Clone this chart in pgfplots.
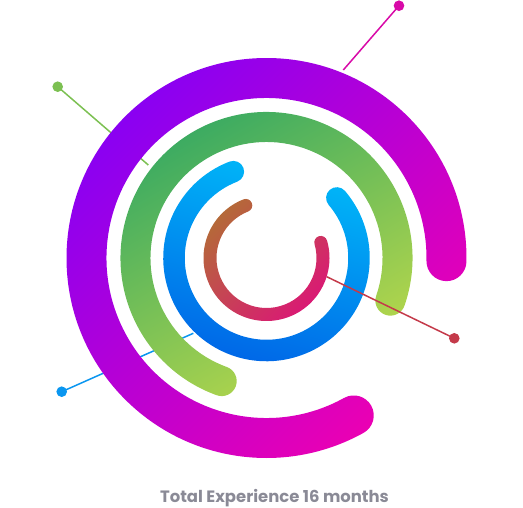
\documentclass[border=0pt]{standalone}
\usepackage{pgfplots}
\pgfplotsset{compat=1.18}
\usepackage{fontspec}
\setmainfont{Poppins}

\definecolor{txtgray}{HTML}{8A8A96}
\definecolor{violetA}{HTML}{8A00F2}
\definecolor{violetB}{HTML}{EC00B2}
\definecolor{greenA}{HTML}{34A863}
\definecolor{greenB}{HTML}{BCD94A}
\definecolor{blueA}{HTML}{00B8F8}
\definecolor{blueB}{HTML}{0062E6}
\definecolor{redA}{HTML}{B46A38}
\definecolor{redB}{HTML}{DC1478}
\definecolor{lnMag}{HTML}{D80AA8}
\definecolor{lnGreen}{HTML}{7CC052}
\definecolor{lnBlue}{HTML}{0A96F0}
\definecolor{lnRed}{HTML}{C43A4A}

% ring segment: centre radius, half width, start angle, end angle, colours, shading angle
\newcommand{\ringarc}[7]{%
  \shade[top color=#5, bottom color=#6, shading angle=#7]
    (axis cs:{266.5+(#1+#2)*cos(#3)},{250+(#1+#2)*sin(#3)})
    arc[start angle=#3, end angle=#4, radius={(#1+#2)*1bp}]
    arc[start angle=#4, end angle={#4+180}, radius={#2*1bp}]
    arc[start angle=#4, end angle=#3, radius={(#1-#2)*1bp}]
    arc[start angle={#3+180}, end angle={#3+360}, radius={#2*1bp}]
    -- cycle;}

\begin{document}
\begin{tikzpicture}
\useasboundingbox (0,0) rectangle (523bp,508bp);
\begin{axis}[
    at={(0,0)}, anchor=south west,
    x=1bp, y=1bp,
    xmin=0, xmax=523, ymin=0, ymax=508,
    disabledatascaling,
    hide axis, clip=false,
    ]
    % blue
    \addplot[lnBlue, line width=1.5bp, mark=*, mark indices={2}, mark size=4.5bp]
        coordinates {(193.3,174.7) (61.7,116.3)};
    \ringarc{92.5}{10.75}{111}{400.5}{blueA}{blueB}{-15}
    % green
    \addplot[lnGreen, line width=1.5bp, mark=*, mark indices={2}, mark size=4.5bp]
        coordinates {(148.3,343) (57.7,421.3)};
    \ringarc{131}{15}{-19}{250}{greenA}{greenB}{30}
    % violet
    \addplot[lnMag, line width=1.5bp, mark=*, mark indices={2}, mark size=4.5bp]
        coordinates {(343.3,438) (399,502.3)};
    \ringarc{180}{20}{-1}{299}{violetA}{violetB}{45}
    % red
    \addplot[lnRed, line width=1.5bp, mark=*, mark indices={2}, mark size=4.5bp]
        coordinates {(326.7,231.3) (454.3,169.7)};
    \ringarc{56.5}{6.5}{111.5}{376}{redA}{redB}{45}

    \node[anchor=base, text=txtgray, font=\bfseries\fontsize{16.5}{19}\selectfont]
        at (axis cs:274.5,5.3) {Total Experience 16 months};
\end{axis}
\end{tikzpicture}
\end{document}
